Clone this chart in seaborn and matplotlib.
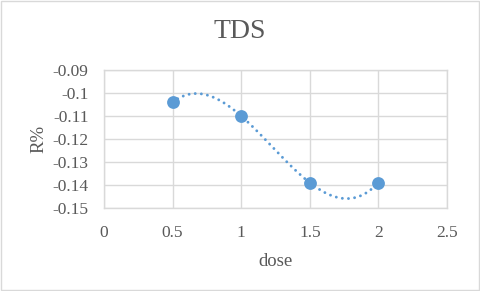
import numpy as np
import pandas as pd
import matplotlib
matplotlib.use("Agg")
import matplotlib.pyplot as plt
import seaborn as sns
from matplotlib.patches import Rectangle

# data
dose = [0.5, 1.0, 1.5, 2.0]
r_pct = [-0.104, -0.110, -0.139, -0.139]
x_ticks = [0, 0.5, 1, 1.5, 2, 2.5]
y_ticks = [-0.15, -0.14, -0.13, -0.12, -0.11, -0.1, -0.09]
y_tick_labels = ["-0.15", "-0.14", "-0.13", "-0.12", "-0.11", "-0.1", "-0.09"]

sns.set_style("white")
plt.rcParams['font.family'] = ['Liberation Serif', 'DejaVu Serif']

blue = "#5B9BD5"
grey_txt = "#595959"
grid_c = "#D9D9D9"

df = pd.DataFrame({"dose": dose, "R%": r_pct})

# smoothed line through the points (like excel's smooth scatter)
coef = np.polyfit(df["dose"], df["R%"], 3)
xs = np.linspace(df["dose"].min(), df["dose"].max(), 300)
smooth = pd.DataFrame({"dose": xs, "R%": np.polyval(coef, xs)})

fig = plt.figure(figsize=(4.8, 2.91), dpi=100)
ax = fig.add_axes([104/480, 1 - 208/291, (447 - 104)/480, (208 - 70)/291])

sns.lineplot(data=smooth, x="dose", y="R%", ax=ax, color=blue, lw=2.1,
             linestyle=(0, (0.01, 2.1)), dash_capstyle="round", zorder=2)
sns.scatterplot(data=df, x="dose", y="R%", ax=ax, color=blue, s=85,
                edgecolor=blue, linewidth=0, zorder=3)

ax.set_xlim(0, 2.5)
ax.set_ylim(-0.15, -0.09)
ax.set_xticks(x_ticks)
ax.set_xticklabels([f"{t:g}" for t in x_ticks])
ax.set_yticks(y_ticks)
ax.set_yticklabels(y_tick_labels)
ax.grid(True, color=grid_c, lw=1)
for s in ax.spines.values():
    s.set_color(grid_c)
    s.set_linewidth(1)
ax.tick_params(length=0, labelsize=12.5, labelcolor=grey_txt)
ax.tick_params(axis="y", pad=11)
ax.tick_params(axis="x", pad=12)

ax.set_xlabel("dose", fontsize=13.5, color=grey_txt, labelpad=9)
ax.set_ylabel("R%", fontsize=13.5, color=grey_txt, labelpad=4)
fig.text(0.5, 1 - 32/291, "TDS", ha="center", va="center", fontsize=20, color=grey_txt)

# outer chart border
fig.patches.append(Rectangle((0.002, 0.003), 0.995, 0.993, transform=fig.transFigure,
                             fill=False, edgecolor=grid_c, lw=1))

fig.savefig("out.png", dpi=100)
